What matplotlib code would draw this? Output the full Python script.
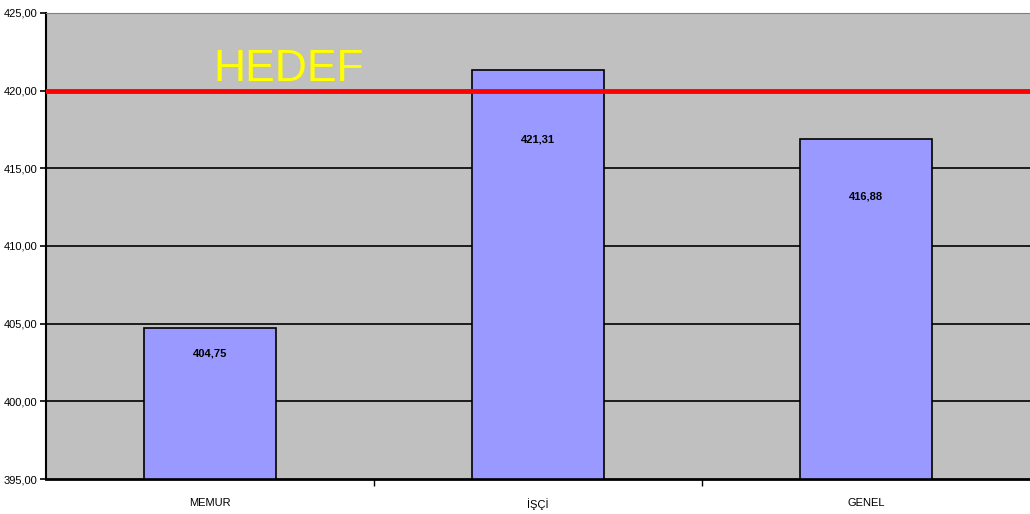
import matplotlib.pyplot as plt
from matplotlib.ticker import FuncFormatter

categories = ['MEMUR', 'İŞÇİ', 'GENEL']
values = [404.75, 421.31, 416.88]
target = 420.0
target_label = 'HEDEF'
y_ticks = [395, 400, 405, 410, 415, 420, 425]

plt.rcParams['font.family'] = ['Liberation Sans', 'DejaVu Sans']

fig = plt.figure(figsize=(10.30, 5.14), dpi=100)
ax = fig.add_axes([0.0447, 0.068, 0.9553, 0.907])
ax.set_facecolor('#C0C0C0')

x = list(range(len(categories)))
ax.bar(x, [v - y_ticks[0] for v in values], bottom=y_ticks[0], width=0.4,
       color='#9999FF', edgecolor='black', linewidth=1.2, zorder=3)

for yy in y_ticks[1:-1]:
    ax.axhline(yy, color='black', linewidth=1.2, zorder=1)

ax.axhline(target, color='#FF0000', linewidth=3.5, zorder=4)
ax.text(0.24, target + 0.6, target_label, color='#FFFF00', fontsize=32,
        ha='center', va='baseline', zorder=5)

# labels sit inside the bars, a little below the top
for xi, v in zip(x, values):
    ax.text(xi, y_ticks[0] + 0.83 * (v - y_ticks[0]), f'{v:.2f}'.replace('.', ','),
            ha='center', va='center', fontsize=8, fontweight='bold', zorder=6)

ax.set_xlim(-0.5, 2.5)
ax.set_ylim(y_ticks[0], y_ticks[-1])
ax.set_yticks(y_ticks)
ax.yaxis.set_major_formatter(FuncFormatter(lambda v, p: f'{v:.2f}'.replace('.', ',')))
ax.tick_params(axis='y', labelsize=8, length=4, width=1.2, pad=2)

ax.set_xticks([0.5, 1.5], minor=False)
ax.set_xticklabels([])
ax.set_xticks(x, minor=True)
ax.set_xticklabels(categories, minor=True)
ax.tick_params(axis='x', which='major', length=5, width=1)
ax.tick_params(axis='x', which='minor', length=0, labelsize=8, pad=14)

ax.spines['right'].set_visible(False)
ax.spines['top'].set_color('#808080')
ax.spines['left'].set_linewidth(1.5)
ax.spines['bottom'].set_linewidth(2)

fig.savefig('out.png', dpi=100)
